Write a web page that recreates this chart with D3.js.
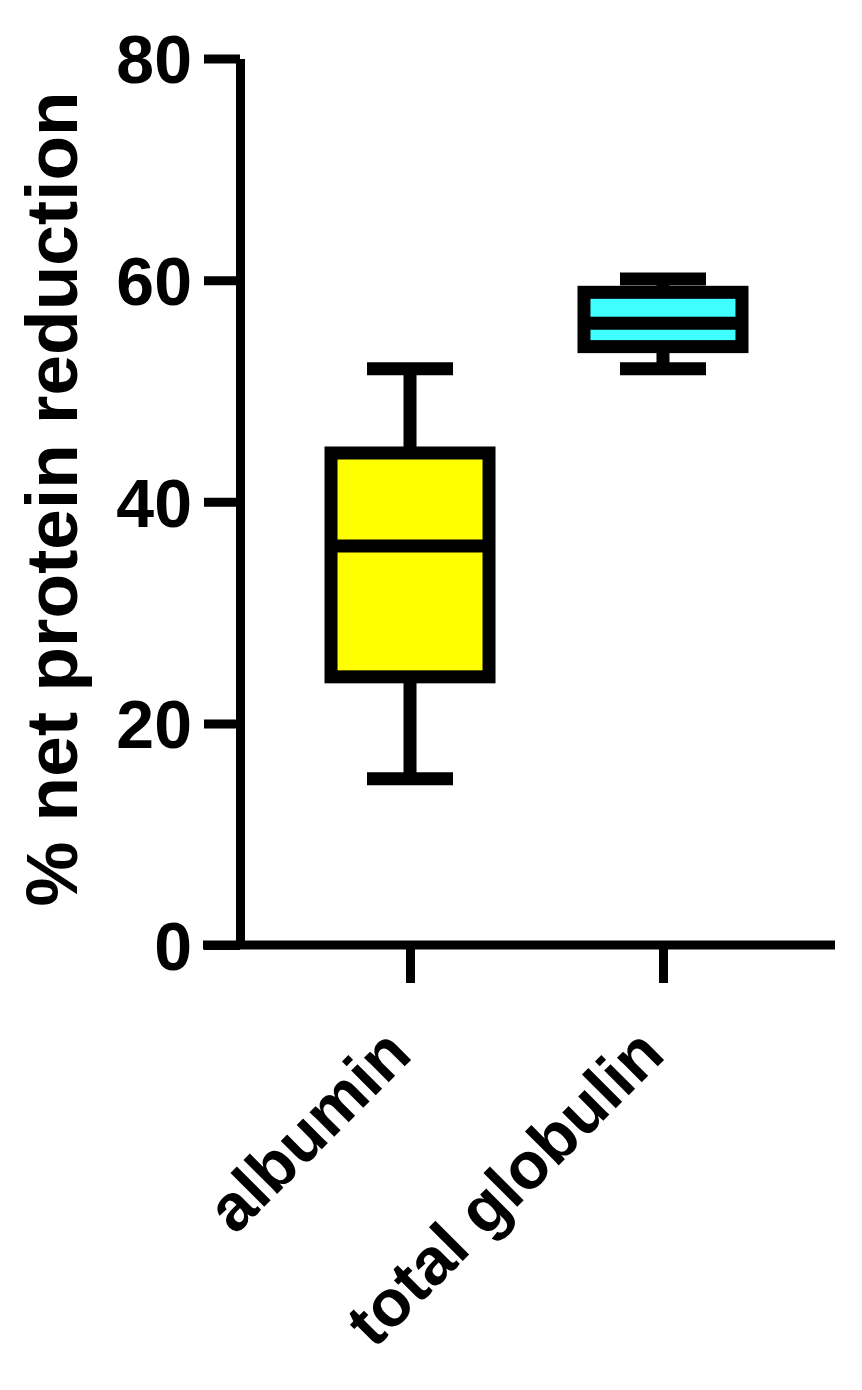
<!DOCTYPE html>
<html>
<head>
<meta charset="utf-8">
<script src="https://cdn.jsdelivr.net/npm/d3@7"></script>
<style>
  body { margin: 0; background: #fff; }
  svg { display: block; font-family: "Liberation Sans", Arial, sans-serif; font-weight: bold; }
</style>
</head>
<body>
<div id="chart"></div>
<script>
// Data
let categories = ["albumin", "total globulin"];
let mins = [15.0, 52.0];
let q1s = [24.2, 54.0];
let medians = [36.0, 56.1];
let q3s = [44.4, 58.9];
let maxs = [52.0, 60.1];
let fills = ["#ffff00", "#40ffff"];
let yTicks = [0, 20, 40, 60, 80];

let width = 862;
let height = 1390;

let svg = d3.select("#chart")
    .append("svg")
    .attr("width", width)
    .attr("height", height);

let xScale = d3.scalePoint()
    .domain(categories)
    .range([238, 835])
    .padding(0.68);

let yScale = d3.scaleLinear()
    .domain([0, 80])
    .range([945, 58.5]);

let boxes = categories.map((c, i) => ({
    cat: c, min: mins[i], q1: q1s[i], med: medians[i], q3: q3s[i], max: maxs[i], fill: fills[i]
}));

let boxW = 158;
let capW = 86;
let lw = 13;

// whiskers
let g = svg.append("g");
g.selectAll(".whisker")
    .data(boxes)
    .enter()
    .append("path")
    .attr("class", "whisker")
    .attr("fill", "none")
    .attr("stroke", "#000")
    .attr("stroke-width", lw)
    .attr("d", d => {
        let cx = xScale(d.cat);
        return "M" + cx + "," + yScale(d.max) + "V" + yScale(d.q3) +
               "M" + cx + "," + yScale(d.q1) + "V" + yScale(d.min) +
               "M" + (cx - capW / 2) + "," + yScale(d.max) + "H" + (cx + capW / 2) +
               "M" + (cx - capW / 2) + "," + yScale(d.min) + "H" + (cx + capW / 2);
    });

// boxes
g.selectAll(".box")
    .data(boxes)
    .enter()
    .append("rect")
    .attr("class", "box")
    .attr("x", d => xScale(d.cat) - boxW / 2)
    .attr("y", d => yScale(d.q3))
    .attr("width", boxW)
    .attr("height", d => yScale(d.q1) - yScale(d.q3))
    .attr("fill", d => d.fill)
    .attr("stroke", "#000")
    .attr("stroke-width", lw);

// medians
g.selectAll(".median")
    .data(boxes)
    .enter()
    .append("line")
    .attr("class", "median")
    .attr("x1", d => xScale(d.cat) - boxW / 2)
    .attr("x2", d => xScale(d.cat) + boxW / 2)
    .attr("y1", d => yScale(d.med))
    .attr("y2", d => yScale(d.med))
    .attr("stroke", "#000")
    .attr("stroke-width", lw);

// axes
let yAxis = d3.axisLeft(yScale)
    .tickValues(yTicks)
    .tickSize(36)
    .tickSizeOuter(0)
    .tickPadding(12);

let yG = svg.append("g")
    .attr("transform", "translate(240,0)")
    .call(yAxis);
yG.select(".domain").attr("stroke-width", 9);
yG.selectAll(".tick line").attr("stroke-width", 9);
yG.selectAll(".tick text")
    .attr("font-size", 68)
    .attr("font-family", "Liberation Sans, Arial, sans-serif")
    .attr("font-weight", "bold")
    .attr("dy", "0.36em")
    .attr("fill", "#000");

let xAxis = d3.axisBottom(xScale)
    .tickSize(38)
    .tickSizeOuter(0)
    .tickFormat("");

let xG = svg.append("g")
    .attr("transform", "translate(0,945)")
    .call(xAxis);
xG.select(".domain")
    .attr("d", "M203,0H835")
    .attr("stroke-width", 9);
xG.selectAll(".tick line").attr("stroke-width", 9);

// category labels, rotated
svg.selectAll(".cat-label")
    .data(categories)
    .enter()
    .append("text")
    .attr("class", "cat-label")
    .attr("text-anchor", "end")
    .attr("font-size", 66)
    .attr("transform", d => "translate(" + (xScale(d) + 4) + ",1057) rotate(-45)")
    .text(d => d);

// y axis title
svg.append("text")
    .attr("text-anchor", "middle")
    .attr("font-size", 73)
    .attr("transform", "translate(77,499) rotate(-90)")
    .text("% net protein reduction");
</script>
</body>
</html>
